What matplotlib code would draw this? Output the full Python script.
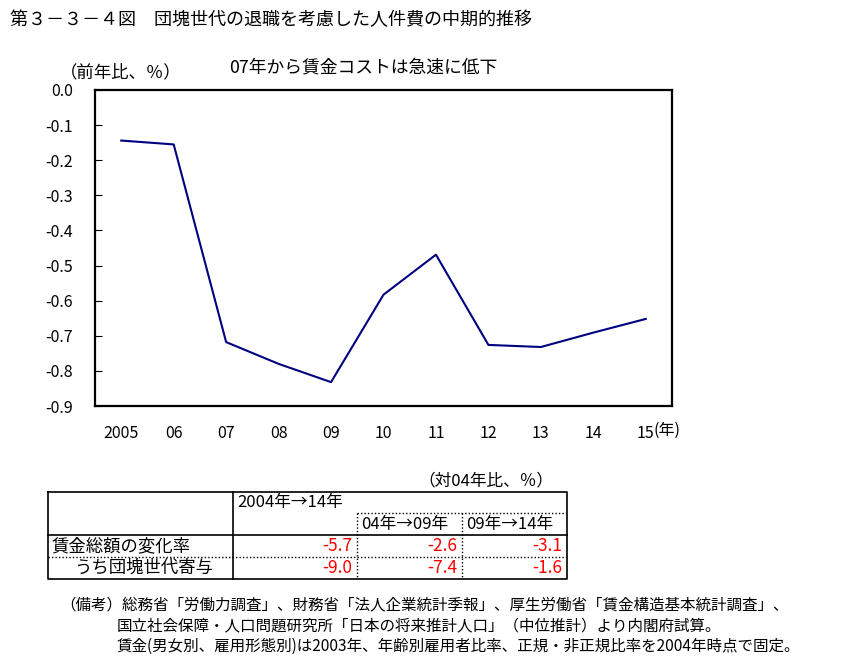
import matplotlib.pyplot as plt

plt.rcParams['font.family'] = ['Noto Sans CJK JP', 'DejaVu Sans']

# chart data
years = ['2005', '06', '07', '08', '09', '10', '11', '12', '13', '14', '15']
cost_change = [-0.144, -0.155, -0.718, -0.78, -0.832, -0.583, -0.469, -0.726, -0.732, -0.691, -0.652]
y_ticks = [0.0, -0.1, -0.2, -0.3, -0.4, -0.5, -0.6, -0.7, -0.8, -0.9]

# table data
row_labels = ['賃金総額の変化率', 'うち団塊世代寄与']
col_labels = ['2004年→14年', '04年→09年', '09年→14年']
table_values = [[-5.7, -2.6, -3.1],
                [-9.0, -7.4, -1.6]]

title = '第３－３－４図　団塊世代の退職を考慮した人件費の中期的推移'
notes = ['（備考）総務省「労働力調査」、財務省「法人企業統計季報」、厚生労働省「賃金構造基本統計調査」、',
         '国立社会保障・人口問題研究所「日本の将来推計人口」（中位推計）より内閣府試算。',
         '賃金(男女別、雇用形態別)は2003年、年齢別雇用者比率、正規・非正規比率を2004年時点で固定。']

W, H = 853, 663
fig = plt.figure(figsize=(W / 100, H / 100), dpi=100)

# line chart
ax = fig.add_axes([95 / W, (H - 406) / H, 577 / W, 316 / H])
x = list(range(len(years)))
ax.plot(x, cost_change, color='#000080', lw=1.5)
ax.set_xlim(-0.5, len(years) - 0.5)
ax.set_ylim(-0.9, 0.0)
ax.set_yticks(y_ticks)
ax.set_yticklabels(['%.1f' % v for v in y_ticks])
ax.set_xticks(x)
ax.set_xticklabels(years)
ax.tick_params(axis='y', direction='in', length=5, pad=16, labelsize=11.5)
ax.tick_params(axis='x', length=0, pad=14, labelsize=11.5)
for s in ax.spines.values():
    s.set_linewidth(1.6)

# overlay in pixel coords for text and the table
ov = fig.add_axes([0, 0, 1, 1])
ov.set_xlim(0, W)
ov.set_ylim(H, 0)
ov.axis('off')
ov.patch.set_alpha(0)

ov.text(654, 430, '(年)', fontsize=11.5, va='center', ha='left')
ov.text(10, 20, title, fontsize=13, va='center', ha='left')
ov.text(60, 72, '（前年比、％）', fontsize=12.5, va='center', ha='left')
ov.text(363, 67, '07年から賃金コストは急速に低下', fontsize=12.8, va='center', ha='center')

# table
tl, tr, tt, tb = 48, 567, 492, 579
c1, c2, c3 = 233, 357, 462
r1, r2, r3 = 513, 535, 557
lk = dict(color='black', lw=1.2)
dk = dict(color='black', lw=1.0, ls=(0, (1, 1.5)))
ov.plot([tl, tr, tr, tl, tl], [tt, tt, tb, tb, tt], **lk)
ov.plot([c1, c1], [tt, tb], **lk)
ov.plot([tl, tr], [r2, r2], **lk)
ov.plot([c2, tr], [r1, r1], **dk)
ov.plot([tl, tr], [r3, r3], **dk)
ov.plot([c2, c2], [r1, tb], **dk)
ov.plot([c3, c3], [r1, tb], **dk)

ov.text(553, 481, '（対04年比、％）', fontsize=12, ha='right', va='center')
ov.text(c1 + 4, 502, col_labels[0], fontsize=12, ha='left', va='center')
ov.text(c2 + 4, 524, col_labels[1], fontsize=12, ha='left', va='center')
ov.text(c3 + 4, 524, col_labels[2], fontsize=12, ha='left', va='center')
ov.text(52, 546, row_labels[0], fontsize=12.5, ha='left', va='center')
ov.text(74, 568, row_labels[1], fontsize=12.5, ha='left', va='center')
rights = [c2 - 5, c3 - 5, tr - 5]
for i, row in enumerate(table_values):
    yy = 546 + 22 * i
    for j, v in enumerate(row):
        ov.text(rights[j], yy, '%.1f' % v, fontsize=12.5, ha='right', va='center', color='red')

# notes
ov.text(60, 605, notes[0], fontsize=11.2, ha='left', va='center')
ov.text(117, 626, notes[1], fontsize=11.2, ha='left', va='center')
ov.text(117, 646, notes[2], fontsize=11.2, ha='left', va='center')

fig.savefig('out.png', dpi=100)
